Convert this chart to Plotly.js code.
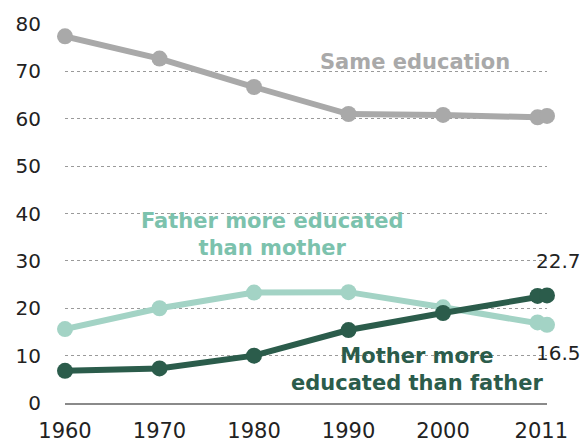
<!DOCTYPE html>
<html>
<head>
<meta charset="utf-8">
<script src="https://cdn.plot.ly/plotly-3.0.1.min.js"></script>
<style>html,body{margin:0;padding:0;background:#fff;}#chart{width:584px;height:439px;}</style>
</head>
<body>
<div id="chart"></div>
<script>
var years = [1960, 1970, 1980, 1990, 2000, 2010, 2011];
var sameEducation = [77.4, 72.7, 66.7, 61.0, 60.8, 60.3, 60.6];
var fatherMore = [15.6, 20.0, 23.3, 23.4, 20.2, 17.0, 16.5];
var motherMore = [6.8, 7.3, 10.0, 15.4, 19.0, 22.6, 22.7];
var xTickVals = [1960, 1970, 1980, 1990, 2000, 2010.4];
var xTickText = ['1960', '1970', '1980', '1990', '2000', '2011'];
var yTickVals = [0, 10, 20, 30, 40, 50, 60, 70, 80];

var cGray = '#a9a9a9', cLight = '#a3d3c5', cDark = '#2b5c4b';
function tr(y, c) {
  return {x: years, y: y, type: 'scatter', mode: 'lines+markers', cliponaxis: false,
    line: {color: c, width: 6}, marker: {color: c, size: 16}, hoverinfo: 'skip'};
}
var data = [tr(sameEducation, cGray), tr(fatherMore, cLight), tr(motherMore, cDark)];
var fnt = 'DejaVu Sans, Verdana, sans-serif';
var layout = {
  width: 584, height: 439,
  margin: {l: 65, r: 37, t: 24, b: 36},
  paper_bgcolor: '#fff', plot_bgcolor: '#fff',
  showlegend: false,
  font: {family: fnt, color: '#222'},
  xaxis: {range: [1960, 2011], tickvals: xTickVals, ticktext: xTickText,
    showgrid: false, zeroline: false, showline: true, linecolor: '#8a8a8a', linewidth: 2,
    ticks: 'outside', ticklen: 8, tickcolor: 'rgba(0,0,0,0)',
    tickfont: {size: 21, color: '#222', family: fnt}},
  yaxis: {range: [0, 80], tickvals: yTickVals, showgrid: true, gridcolor: '#9a9a9a',
    griddash: 'dot', gridwidth: 1, zeroline: false, showline: false,
    ticks: 'outside', ticklen: 19, tickcolor: 'rgba(0,0,0,0)',
    tickfont: {size: 20, color: '#222', family: fnt}},
  annotations: [
    {x: 1997.03, y: 72.0, text: '<b>Same education</b>', showarrow: false,
      font: {size: 21, color: cGray, family: fnt}},
    {x: 1982.0, y: 35.6, text: '<b>Father more educated<br>than mother</b>', showarrow: false,
      font: {size: 21, color: '#7cc2ad', family: fnt}, align: 'center'},
    {x: 1997.25, y: 7.04, text: '<b>Mother more<br>educated than father</b>', showarrow: false,
      font: {size: 21, color: cDark, family: fnt}, align: 'center'},
    {x: 2009.6, y: 29.98, text: '22.7', showarrow: false, xanchor: 'left',
      font: {size: 20, color: '#222', family: fnt}},
    {x: 2009.6, y: 10.53, text: '16.5', showarrow: false, xanchor: 'left',
      font: {size: 20, color: '#222', family: fnt}},
    {x: 1959.15, y: 23.0, text: '15.6', showarrow: false, xanchor: 'left',
      font: {size: 20, color: '#222', family: fnt}},
    {x: 1959.79, y: 1.86, text: '6.8', showarrow: false, xanchor: 'left',
      font: {size: 20, color: '#222', family: fnt}}
  ]
};
Plotly.newPlot('chart', data, layout, {displayModeBar: false, staticPlot: true});
</script>
</body>
</html>
